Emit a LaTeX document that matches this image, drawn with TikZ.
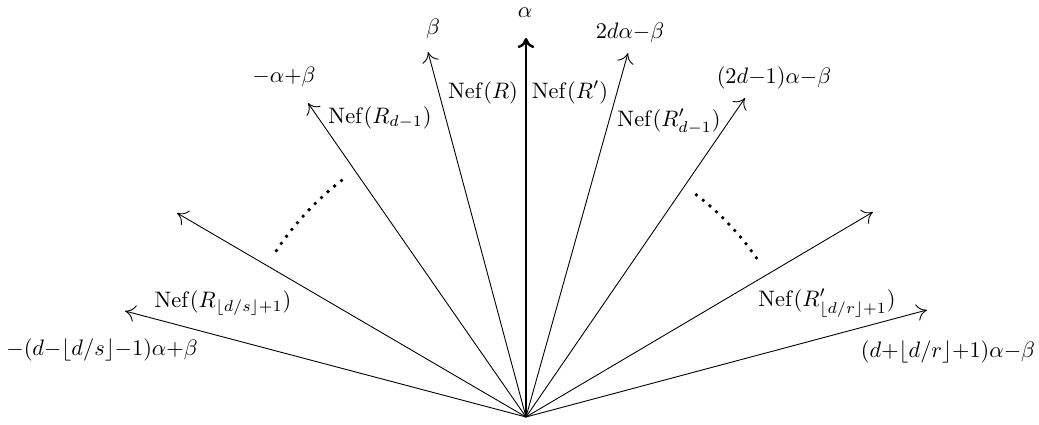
\documentclass[tikz,border=0pt]{standalone}
\usepackage{amsmath}
\usepackage{amssymb}
\usepackage{tikz}
\usetikzlibrary{arrows.meta}
\tikzset{
  ray/.style={-{To[length=4.5pt,width=7.5pt]}, thin},
  axray/.style={ray, line width=1.1pt},
  lbl/.style={anchor=base, inner sep=0pt, execute at begin node={\medmuskip=0mu}},
  dts/.style={line width=1.7pt, line cap=round, dash pattern=on 0pt off 3.9pt},
}

\begin{document}
\begin{tikzpicture}[x=1.571cm,y=1.571cm]
  \useasboundingbox (-5.26,-0.07) rectangle (5.13,4.17);
  \coordinate (O) at (0,0);
  \coordinate (a) at (0,3.79);
  \coordinate (b) at (-0.98,3.65);
  \coordinate (c) at (-2.18,3.14);
  \coordinate (d) at (-3.49,2.04);
  \coordinate (e) at (-4.01,1.06);
  \coordinate (bb) at (1.02,3.64);
  \coordinate (cc) at (2.19,3.19);
  \coordinate (dd) at (3.47,2.05);
  \coordinate (ee) at (4.01,1.07);
  \draw[axray] (O) -- (a);
  \foreach \t in {b,c,d,e,bb,cc,dd,ee}
    \draw[ray] (O) -- (\t);
  \draw[dts] (146.3:3.0) arc (146.3:127.7:3.0);
  \draw[dts] (52.5:2.8) arc (52.5:34.2:2.8);
  \node[lbl] (la) at (-0.01,4.00) {$\alpha$};
  \node[lbl] (lb) at (-0.93,3.82) {$\beta$};
  \node[lbl] (lc) at (-2.42,3.35) {$-\alpha+\beta$};
  \node[lbl] (le) at (-4.24,0.62) {$-(d-\lfloor d/s\rfloor-1)\alpha+\beta$};
  \node[lbl] (lbb) at (1.04,3.79) {$2d\alpha-\beta$};
  \node[lbl] (lcc) at (2.48,3.34) {$(2d-1)\alpha-\beta$};
  \node[lbl] (lee) at (4.22,0.60) {$(d+\lfloor d/r\rfloor+1)\alpha-\beta$};
  \node[lbl] (nR) at (-0.43,3.19) {$\mathrm{Nef}(R)$};
  \node[lbl] (nRp) at (0.44,3.19) {$\mathrm{Nef}(R')$};
  \node[lbl] (nRd) at (-1.46,2.94) {$\mathrm{Nef}(R_{d-1})$};
  \node[lbl] (nRpd) at (1.43,2.91) {$\mathrm{Nef}(R'_{d-1})$};
  \node[lbl] (nRs) at (-3.03,1.10) {$\mathrm{Nef}(R_{\lfloor d/s\rfloor+1})$};
  \node[lbl] (nRpr) at (3.01,1.11) {$\mathrm{Nef}(R'_{\lfloor d/r\rfloor+1})$};
\end{tikzpicture}
\end{document}
